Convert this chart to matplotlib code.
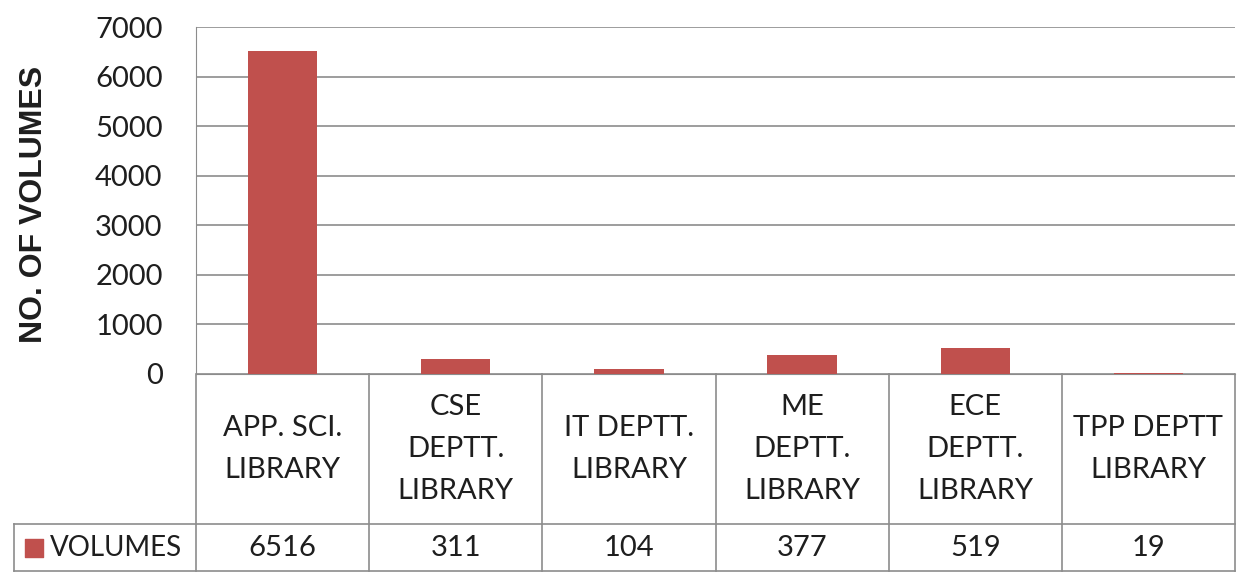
import matplotlib.pyplot as plt

# library names and volume counts
libraries = ["APP. SCI.\nLIBRARY", "CSE\nDEPTT.\nLIBRARY", "IT DEPTT.\nLIBRARY",
             "ME\nDEPTT.\nLIBRARY", "ECE\nDEPTT.\nLIBRARY", "TPP DEPTT\nLIBRARY"]
volumes = [6516, 311, 104, 377, 519, 19]
series_name = "VOLUMES"
y_ticks = [0, 1000, 2000, 3000, 4000, 5000, 6000, 7000]

bar_color = "#C0504D"
grid_color = "#8C8C8C"
text_color = "#1E1E1E"
font = "Lato"

fig = plt.figure(figsize=(12.38, 5.76), dpi=100)
W, H = 1238, 576
ax = fig.add_axes([196 / W, 1 - 374 / H, 1039 / W, 347 / H])

x = list(range(len(volumes)))
ax.bar(x, volumes, width=0.4, color=bar_color, zorder=3)
ax.set_xlim(-0.5, len(volumes) - 0.5)
ax.set_ylim(0, 7000)
ax.set_yticks(y_ticks)
ax.set_yticklabels([str(t) for t in y_ticks], fontsize=21, family=font, color=text_color)
ax.tick_params(axis="y", length=0, pad=24)
ax.set_xticks([])
ax.grid(axis="y", color=grid_color, linewidth=1.2, zorder=0)
for s in ["top", "right"]:
    ax.spines[s].set_visible(False)
ax.spines["left"].set_color(grid_color)
ax.spines["bottom"].set_color(grid_color)

fig.text(34 / W, 1 - 204 / H, "NO. OF VOLUMES", rotation=90, ha="center", va="center",
         fontsize=23, fontweight="bold", family="Liberation Sans", color=text_color)

# data table under the axis
tr = ax.get_xaxis_transform()
hdr_bot = -150 / 347
row_bot = -197 / 347
left_edge = -0.5 - 182 / 173.2
right_edge = len(volumes) - 0.5
lkw = dict(color=grid_color, linewidth=1.2, transform=tr, clip_on=False)
ax.plot([left_edge, right_edge], [hdr_bot, hdr_bot], **lkw)
ax.plot([left_edge, right_edge], [row_bot, row_bot], **lkw)
ax.plot([left_edge, left_edge], [hdr_bot, row_bot], **lkw)
for i in range(len(volumes) + 1):
    ax.plot([i - 0.5, i - 0.5], [0, row_bot], **lkw)

for i, (name, v) in enumerate(zip(libraries, volumes)):
    ax.text(i, hdr_bot / 2, name, transform=tr, ha="center", va="center",
            fontsize=21, family=font, color=text_color, linespacing=1.75)
    ax.text(i, (hdr_bot + row_bot) / 2, str(v), transform=tr, ha="center", va="center",
            fontsize=21, family=font, color=text_color)

ax.scatter([-0.5 - 162 / 173.2], [(hdr_bot + row_bot) / 2], marker="s", s=150,
           color=bar_color, transform=tr, clip_on=False)
ax.text(-0.5 - 146 / 173.2, (hdr_bot + row_bot) / 2, series_name, transform=tr,
        ha="left", va="center", fontsize=20, family=font, color=text_color)

fig.savefig("out.png", dpi=100, facecolor="white")
